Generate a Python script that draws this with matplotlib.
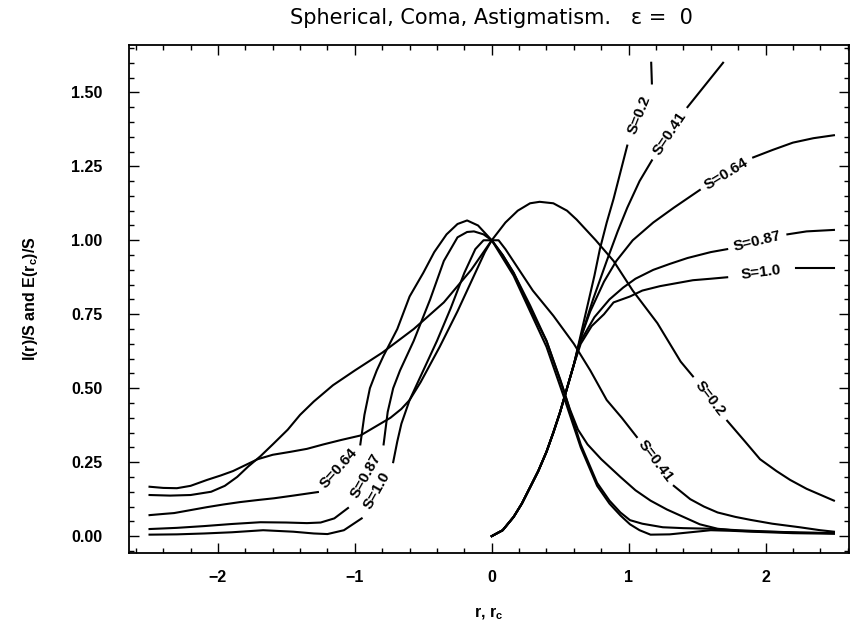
import numpy as np
import matplotlib.pyplot as plt
from matplotlib.ticker import MultipleLocator, FormatStrFormatter

plt.rcParams['font.family'] = ['Liberation Sans', 'DejaVu Sans']

# ---- intensity I(r)/S ----
r_i02 = [-2.5, -2.35, -2.2, -2.05, -1.95, -1.86, -1.78, -1.69, -1.6, -1.49, -1.4, -1.3,
         -1.16, -1.0, -0.8, -0.57, -0.35, -0.15, 0.0, 0.1, 0.19, 0.28, 0.35, 0.45, 0.55,
         0.62, 0.76, 0.89, 1.03, 1.21, 1.38, 1.47, 1.72, 1.85, 1.96, 2.08, 2.18, 2.3, 2.4, 2.5]
v_i02 = [0.139, 0.137, 0.139, 0.15, 0.17, 0.20, 0.235, 0.27, 0.31, 0.36, 0.41, 0.455,
         0.51, 0.56, 0.62, 0.70, 0.79, 0.90, 1.0, 1.06, 1.10, 1.125, 1.13, 1.125, 1.10,
         1.07, 1.0, 0.93, 0.83, 0.72, 0.59, 0.54, 0.39, 0.32, 0.26, 0.22, 0.19, 0.16, 0.14, 0.12]

r_i041 = [-2.5, -2.4, -2.3, -2.2, -2.08, -1.98, -1.89, -1.8, -1.71, -1.6, -1.47, -1.35,
          -1.23, -1.1, -0.96, -0.85, -0.74, -0.66, -0.6, -0.52, -0.45, -0.38, -0.25, -0.13,
          -0.05, 0.0, 0.05, 0.1, 0.2, 0.3, 0.45, 0.6, 0.72, 0.84, 0.95, 1.06, 1.33, 1.45,
          1.55, 1.65, 1.78, 1.89, 2.05, 2.25, 2.4, 2.5]
v_i041 = [0.167, 0.163, 0.162, 0.17, 0.19, 0.205, 0.22, 0.24, 0.26, 0.275, 0.285, 0.295,
          0.31, 0.325, 0.34, 0.37, 0.40, 0.43, 0.46, 0.52, 0.58, 0.64, 0.76, 0.88,
          0.96, 1.0, 1.0, 0.97, 0.90, 0.83, 0.745, 0.65, 0.56, 0.46, 0.40, 0.335, 0.17, 0.125,
          0.10, 0.08, 0.065, 0.055, 0.042, 0.03, 0.02, 0.015]

r_i064 = [-2.5, -2.4, -2.32, -2.2, -2.08, -1.96, -1.84, -1.71, -1.59, -1.45, -1.27, -0.96,
          -0.93, -0.89, -0.84, -0.79, -0.69, -0.6, -0.5, -0.42, -0.33, -0.25, -0.18, -0.1,
          -0.04, 0.0, 0.08, 0.16, 0.28, 0.4, 0.5, 0.57, 0.63, 0.7, 0.8, 0.94, 1.05, 1.16,
          1.28, 1.4, 1.52, 1.65, 1.8, 2.0, 2.25, 2.5]
v_i064 = [0.071, 0.075, 0.078, 0.088, 0.098, 0.107, 0.115, 0.122, 0.128, 0.137, 0.149, 0.31,
          0.41, 0.50, 0.56, 0.61, 0.70, 0.81, 0.89, 0.96, 1.02, 1.055, 1.067, 1.05,
          1.02, 1.0, 0.95, 0.89, 0.78, 0.66, 0.53, 0.43, 0.36, 0.31, 0.26, 0.20, 0.155, 0.12,
          0.09, 0.065, 0.04, 0.025, 0.018, 0.015, 0.012, 0.01]

r_i087 = [-2.5, -2.3, -2.1, -1.9, -1.69, -1.5, -1.35, -1.25, -1.15, -1.05, -0.79, -0.76,
          -0.72, -0.67, -0.57, -0.45, -0.35, -0.25, -0.18, -0.13, -0.06, 0.0, 0.08, 0.16,
          0.28, 0.4, 0.52, 0.65, 0.77, 0.86, 0.94, 1.01, 1.1, 1.25, 1.4, 1.6, 1.8, 2.0, 2.25, 2.5]
v_i087 = [0.024, 0.028, 0.034, 0.041, 0.047, 0.046, 0.044, 0.046, 0.06, 0.095, 0.31, 0.42,
          0.50, 0.56, 0.66, 0.80, 0.93, 1.01, 1.028, 1.03, 1.02, 1.0, 0.95, 0.89,
          0.77, 0.66, 0.50, 0.31, 0.18, 0.12, 0.08, 0.054, 0.042, 0.03, 0.027, 0.025, 0.02,
          0.016, 0.012, 0.01]

r_i10 = [-2.5, -2.3, -2.1, -1.9, -1.67, -1.45, -1.3, -1.2, -1.08, -0.95, -0.72, -0.69,
         -0.66, -0.6, -0.5, -0.4, -0.3, -0.2, -0.12, -0.06, 0.0, 0.08, 0.16, 0.28, 0.4, 0.52,
         0.65, 0.77, 0.86, 0.94, 1.01, 1.08, 1.16, 1.3, 1.45, 1.6, 1.75, 1.9, 2.2, 2.5]
v_i10 = [0.005, 0.006, 0.009, 0.013, 0.02, 0.015, 0.009, 0.007, 0.02, 0.06, 0.25, 0.32,
         0.38, 0.46, 0.56, 0.66, 0.77, 0.89, 0.97, 1.0, 1.0, 0.94, 0.88, 0.76, 0.64, 0.48,
         0.30, 0.17, 0.11, 0.07, 0.04, 0.02, 0.005, 0.006, 0.013, 0.02, 0.018, 0.015, 0.01, 0.008]

# ---- encircled energy E(r_c)/S ----
r_e02 = [0.0, 0.08, 0.16, 0.22, 0.28, 0.34, 0.4, 0.45, 0.5, 0.55, 0.6, 0.65, 0.7, 0.75,
         0.79, 0.84, 0.89, 0.94, 0.99, 1.17, 1.165]
v_e02 = [0.0, 0.02, 0.065, 0.11, 0.165, 0.22, 0.285, 0.35, 0.42, 0.5, 0.58, 0.68, 0.78, 0.88,
         0.97, 1.06, 1.14, 1.23, 1.32, 1.53, 1.60]

r_e041 = [0.0, 0.08, 0.16, 0.22, 0.28, 0.34, 0.4, 0.45, 0.5, 0.55, 0.6, 0.65, 0.74, 0.84,
          0.92, 0.99, 1.08, 1.17, 1.43, 1.56, 1.69]
v_e041 = [0.0, 0.02, 0.065, 0.11, 0.165, 0.22, 0.285, 0.35, 0.42, 0.5, 0.58, 0.67, 0.80, 0.93,
          1.03, 1.11, 1.20, 1.27, 1.45, 1.525, 1.60]

r_e064 = [0.0, 0.08, 0.16, 0.22, 0.28, 0.34, 0.4, 0.45, 0.5, 0.55, 0.6, 0.65, 0.72, 0.82,
          0.91, 1.03, 1.18, 1.33, 1.52, 1.91, 2.05, 2.2, 2.35, 2.5]
v_e064 = [0.0, 0.02, 0.065, 0.11, 0.165, 0.22, 0.285, 0.35, 0.42, 0.5, 0.58, 0.67, 0.76, 0.86,
          0.93, 1.0, 1.06, 1.11, 1.17, 1.28, 1.305, 1.33, 1.345, 1.355]

r_e087 = [0.0, 0.08, 0.16, 0.22, 0.28, 0.34, 0.4, 0.45, 0.5, 0.55, 0.6, 0.65, 0.75, 0.86,
          0.96, 1.05, 1.18, 1.3, 1.43, 1.6, 1.72, 2.16, 2.3, 2.5]
v_e087 = [0.0, 0.02, 0.065, 0.11, 0.165, 0.22, 0.285, 0.35, 0.42, 0.5, 0.58, 0.66, 0.74, 0.80,
          0.84, 0.87, 0.90, 0.92, 0.94, 0.96, 0.97, 1.02, 1.03, 1.035]

r_e10 = [0.0, 0.08, 0.16, 0.22, 0.28, 0.34, 0.4, 0.45, 0.5, 0.55, 0.6, 0.65, 0.73, 0.82,
         0.89, 1.01, 1.1, 1.23, 1.35, 1.47, 1.6, 1.72, 2.22, 2.5]
v_e10 = [0.0, 0.02, 0.065, 0.11, 0.165, 0.22, 0.285, 0.35, 0.42, 0.5, 0.58, 0.65, 0.71, 0.75,
         0.79, 0.81, 0.83, 0.845, 0.855, 0.865, 0.87, 0.875, 0.905, 0.905]

# curve, label, where the inline label breaks the line
curves = [
    (r_i02, v_i02, 'S=0.2', (1.47, 1.72)),
    (r_i041, v_i041, 'S=0.41', (1.06, 1.33)),
    (r_i064, v_i064, 'S=0.64', (-1.27, -0.96)),
    (r_i087, v_i087, 'S=0.87', (-1.05, -0.79)),
    (r_i10, v_i10, 'S=1.0', (-0.95, -0.72)),
    (r_e02, v_e02, 'S=0.2', (0.99, 1.17)),
    (r_e041, v_e041, 'S=0.41', (1.17, 1.43)),
    (r_e064, v_e064, 'S=0.64', (1.52, 1.91)),
    (r_e087, v_e087, 'S=0.87', (1.72, 2.16)),
    (r_e10, v_e10, 'S=1.0', (1.72, 2.22)),
]

fig = plt.figure(figsize=(8.5, 6.3), dpi=100)
ax = fig.add_axes([129 / 850, 77 / 630, 720 / 850, 508 / 630])
ax.set_xlim(-2.65, 2.61)
ax.set_ylim(-0.057, 1.66)

for r, v, lab, (lo, hi) in curves:
    r = np.array(r)
    v = np.array(v)
    # split the line where the label sits
    i_lo = int(np.where(r == lo)[0][0])
    ax.plot(r[:i_lo + 1], v[:i_lo + 1], color='black', lw=1.5)
    ax.plot(r[i_lo + 1:], v[i_lo + 1:], color='black', lw=1.5)
    p0 = np.array([lo, v[i_lo]])
    p1 = np.array([r[i_lo + 1], v[i_lo + 1]])
    q0, q1 = ax.transData.transform([p0, p1])
    ang = np.degrees(np.arctan2(q1[1] - q0[1], q1[0] - q0[0]))
    if ang > 90:
        ang -= 180
    elif ang < -90:
        ang += 180
    mid = (p0 + p1) / 2
    ax.text(mid[0], mid[1], lab, rotation=ang, rotation_mode='anchor',
            ha='center', va='center', fontsize=11, fontweight='bold')

ax.set_xticks([-2, -1, 0, 1, 2])
ax.xaxis.set_minor_locator(MultipleLocator(0.2))
ax.set_yticks([0, 0.25, 0.5, 0.75, 1.0, 1.25, 1.5])
ax.yaxis.set_minor_locator(MultipleLocator(0.05))
ax.yaxis.set_major_formatter(FormatStrFormatter('%.2f'))
ax.tick_params(which='both', direction='in', top=True, right=True, width=1)
ax.tick_params(which='major', length=7, labelsize=11.5)
ax.tick_params(which='minor', length=3.5)
ax.tick_params(axis='x', pad=12)
ax.tick_params(axis='y', pad=19)
for t in ax.get_xticklabels() + ax.get_yticklabels():
    t.set_fontweight('bold')
for s in ax.spines.values():
    s.set_linewidth(1.3)

fig.text(491 / 850, 1 - 18 / 630, 'Spherical, Coma, Astigmatism.   \u03b5 =  0',
         ha='center', va='center', fontsize=15, family='DejaVu Sans')
fig.text(30 / 850, 1 - 299 / 630, 'I(r)/S and E(r$_\\mathregular{c}$)/S', rotation=90,
         ha='center', va='center', fontsize=11.5, fontweight='bold')
fig.text(489 / 850, 1 - 614 / 630, 'r, r$_\\mathregular{c}$',
         ha='center', va='center', fontsize=11.5, fontweight='bold')

fig.savefig('out.png', dpi=100)
